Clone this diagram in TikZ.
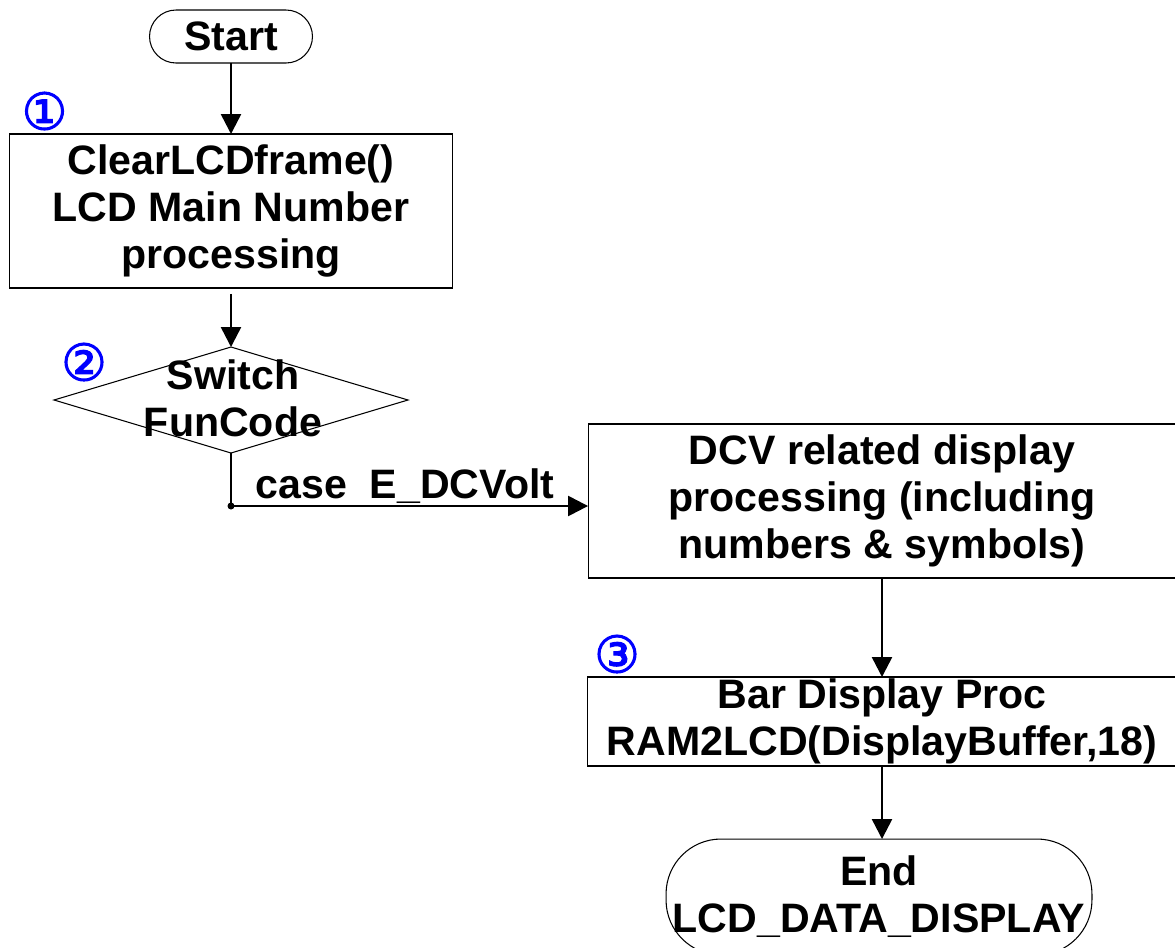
\documentclass[tikz,border=0pt]{standalone}
\usepackage{fontspec}
\setmainfont{Liberation Sans}
\newfontfamily\circfont[FakeBold=2]{DejaVu Sans}
\usetikzlibrary{arrows.meta,shapes.geometric}
\begin{document}
\begin{tikzpicture}[x=0.02cm,y=-0.02cm,
  every node/.style={align=center, inner sep=0pt, outer sep=0pt},
  txt/.style={font=\fontsize{23.4}{26.8}\selectfont\bfseries},
  proc/.style={draw, line width=0.6pt, rectangle, txt},
  term/.style={draw, line width=0.6pt, rectangle, txt},
  arr/.style={line width=1.4pt, -{Triangle[length=0.4cm,width=0.4cm]}},
  conn/.style={line width=1.4pt},
  num/.style={text=blue, font=\circfont\fontsize{29}{29}\selectfont}]
\useasboundingbox (0,0) rectangle (1175,947);
\clip (0,0) rectangle (1175,947);

\node[term, minimum width=3.26cm, minimum height=1.06cm, rounded corners=0.53cm] (start) at (231,36.5) {Start};
\node[proc, minimum width=8.86cm, minimum height=3.08cm] (clr) at (231,211) {ClearLCDframe()\\LCD Main Number\\processing};
\node[diamond, draw, line width=0.6pt, minimum width=7.08cm, minimum height=2.12cm] (sw) at (231,400) {};
\node[txt] (swt) at (233,398.5) {Switch\\FunCode};
\coordinate (j) at (231,506);
\node[proc, minimum width=11.76cm, minimum height=3.08cm] (dcv) at (882,501) {DCV related display\\processing (including\\numbers \& symbols)};
\node[proc, minimum width=11.8cm, minimum height=1.78cm] (bar) at (882,721.5) {Bar Display Proc\\RAM2LCD(DisplayBuffer,18)};
\node[term, minimum width=8.52cm, minimum height=2.32cm, rounded corners=1.1cm] (end) at (879,897) {End\\LCD\_DATA\_DISPLAY};

\node[num] (n1) at (44.5,111) {①};
\node[num] (n2) at (84,362) {②};
\node[num] (n3) at (617,654) {③};

\draw[arr] (start) -- (clr);
\draw[arr] (clr.south) ++(0,6) -- (sw.north);
\draw[conn] (sw.south) -- (j);
\draw[arr] (j) -- (j -| dcv.west);
\fill (j) circle (3.5);
\node[txt] (case) at (405,486) {case\ \ E\_DCVolt};
\draw[arr] (dcv.south -| bar.north) -- (bar.north);
\draw[arr] (bar.south) -- (bar.south |- end.north);
\end{tikzpicture}
\end{document}
